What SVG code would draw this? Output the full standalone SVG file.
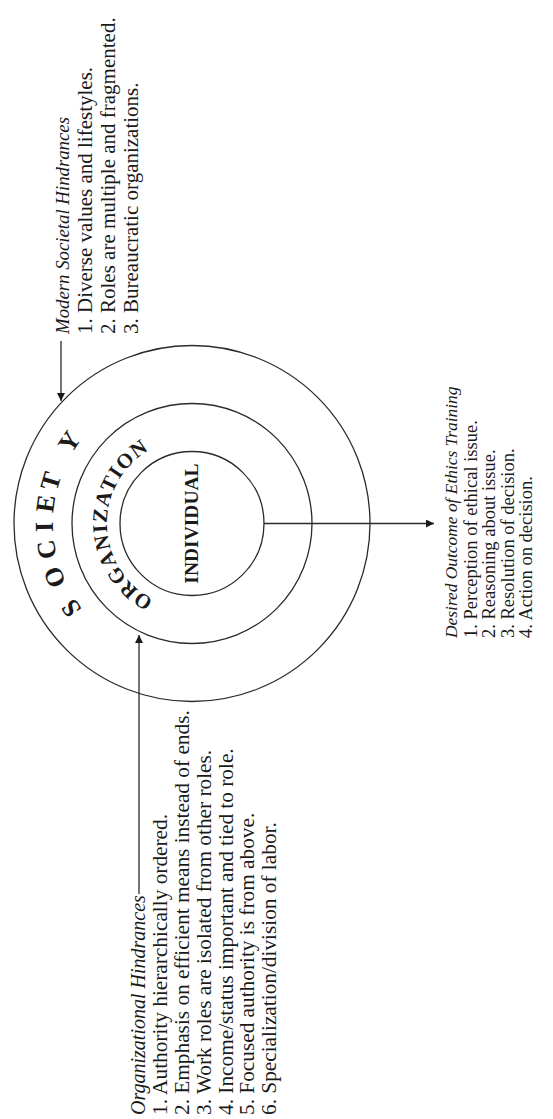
<svg xmlns="http://www.w3.org/2000/svg" width="553" height="1119" viewBox="0 0 553 1119">
<style>
.ring{fill:none;stroke:#2a2a2a;stroke-width:1.3}
.conn{fill:none;stroke:#2a2a2a;stroke-width:1.3}
.t{font-family:"Liberation Serif","Times New Roman",serif;fill:#1a1a1a}
.it{font-style:italic}
.soc{font-family:"Liberation Serif","Times New Roman",serif;font-weight:bold;font-size:26px;fill:#1a1a1a;text-anchor:middle}
.org{font-family:"Liberation Serif","Times New Roman",serif;font-weight:bold;font-size:21px;fill:#1a1a1a;letter-spacing:1.3px}
</style>
<defs>
<marker id="ah" viewBox="0 0 10 10" refX="10" refY="5" markerWidth="9" markerHeight="8" markerUnits="userSpaceOnUse" orient="auto">
<path d="M0,0 L10,5 L0,10 z" fill="#1a1a1a"/>
</marker>
<path id="orgArc" d="M153.7,599.4 A85,85 0 0 1 177.2,439.8"/>
</defs>
<rect width="553" height="1119" fill="#ffffff"/>

<g id="society">
<circle class="ring" cx="192" cy="523.5" r="178"/>
<text class="soc" transform="translate(78.1,603.2) rotate(235)">S</text>
<text class="soc" transform="translate(62.6,574.2) rotate(248.6)">O</text>
<text class="soc" transform="translate(55.2,548.1) rotate(259.8)">C</text>
<text class="soc" transform="translate(53.0,526.7) rotate(268.7)">I</text>
<text class="soc" transform="translate(54.3,504.6) rotate(277.8)">E</text>
<text class="soc" transform="translate(58.9,483.6) rotate(286.7)">T</text>
<text class="soc" transform="translate(76.4,446.4) rotate(303.7)">Y</text>
</g>

<g id="organization">
<circle class="ring" cx="192" cy="523.5" r="120"/>
<text class="org"><textPath href="#orgArc">ORGANIZATION</textPath></text>
</g>

<g id="individual">
<circle class="ring" cx="192" cy="523.5" r="72"/>
<text class="t" font-weight="bold" font-size="19.5" text-anchor="middle" transform="translate(198,523.5) rotate(-90)">INDIVIDUAL</text>
</g>

<g id="modern-hindrances" class="t" font-size="21" transform="translate(0,334) rotate(-90)">
<text class="it" x="0" y="69" font-size="18.8">Modern Societal Hindrances</text>
<text x="0" y="92">1. Diverse values and lifestyles.</text>
<text x="0" y="115">2. Roles are multiple and fragmented.</text>
<text x="0" y="138">3. Bureaucratic organizations.</text>
</g>

<g id="organizational-hindrances" class="t" font-size="21.3" transform="translate(0,1115) rotate(-90)">
<text class="it" x="0" y="145" font-size="20">Organizational Hindrances</text>
<text x="0" y="167">1. Authority hierarchically ordered.</text>
<text x="0" y="189">2. Emphasis on efficient means instead of ends.</text>
<text x="0" y="211">3. Work roles are isolated from other roles.</text>
<text x="0" y="232.5">4. Income/status important and tied to role.</text>
<text x="0" y="254">5. Focused authority is from above.</text>
<text x="0" y="275.5">6. Specialization/division of labor.</text>
</g>

<g id="desired-outcome" class="t" font-size="18.5" transform="translate(0,638) rotate(-90)">
<text class="it" x="0" y="457" font-size="17.4">Desired Outcome of Ethics Training</text>
<text x="0" y="476.5">1. Perception of ethical issue.</text>
<text x="0" y="495">2. Reasoning about issue.</text>
<text x="0" y="513.5">3. Resolution of decision.</text>
<text x="0" y="532">4. Action on decision.</text>
</g>

<g id="connectors">
<line class="conn" x1="61" y1="341" x2="61" y2="401" marker-end="url(#ah)"/>
<line class="conn" x1="139" y1="894" x2="139" y2="635" marker-end="url(#ah)"/>
<line class="conn" x1="264" y1="523.5" x2="434" y2="523.5" marker-end="url(#ah)"/>
</g>
</svg>
